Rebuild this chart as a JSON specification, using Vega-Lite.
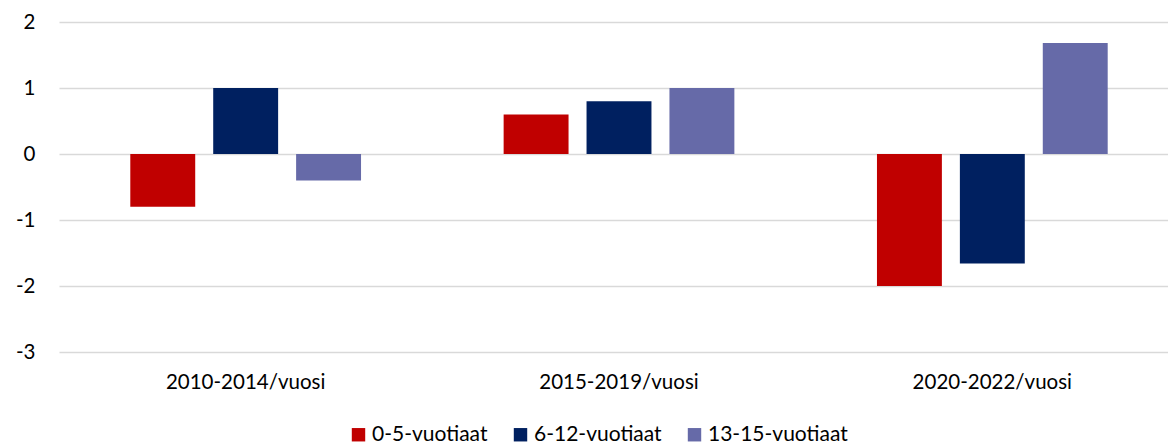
{
  "$schema": "https://vega.github.io/schema/vega-lite/v6.json",
  "width": 1109,
  "height": 330,
  "autosize": {"type": "none"},
  "padding": {"left": 59, "top": 22, "right": 0, "bottom": 94},
  "background": "white",
  "config": {
    "font": "Lato",
    "view": {"stroke": null}
  },
  "data": {
    "values": [
      {"period": "2010-2014/vuosi", "group": "0-5-vuotiaat", "value": -0.8},
      {"period": "2010-2014/vuosi", "group": "6-12-vuotiaat", "value": 1.0},
      {"period": "2010-2014/vuosi", "group": "13-15-vuotiaat", "value": -0.4},
      {"period": "2015-2019/vuosi", "group": "0-5-vuotiaat", "value": 0.6},
      {"period": "2015-2019/vuosi", "group": "6-12-vuotiaat", "value": 0.8},
      {"period": "2015-2019/vuosi", "group": "13-15-vuotiaat", "value": 1.0},
      {"period": "2020-2022/vuosi", "group": "0-5-vuotiaat", "value": -2.0},
      {"period": "2020-2022/vuosi", "group": "6-12-vuotiaat", "value": -1.66},
      {"period": "2020-2022/vuosi", "group": "13-15-vuotiaat", "value": 1.68}
    ]
  },
  "mark": {"type": "bar"},
  "encoding": {
    "x": {
      "field": "period",
      "type": "nominal",
      "sort": null,
      "scale": {"paddingInner": 0, "paddingOuter": 0, "range": [0, 1120]},
      "axis": {
        "title": null,
        "labelAngle": 0,
        "domain": false,
        "ticks": false,
        "grid": false,
        "labelFontSize": 20.5,
        "labelColor": "#000000",
        "labelPadding": 20
      }
    },
    "xOffset": {
      "field": "group",
      "type": "nominal",
      "sort": ["0-5-vuotiaat", "6-12-vuotiaat", "13-15-vuotiaat"],
      "scale": {"paddingInner": 0.217, "paddingOuter": 0.86}
    },
    "y": {
      "field": "value",
      "type": "quantitative",
      "scale": {"domain": [-3, 2], "nice": false},
      "axis": {
        "title": null,
        "values": [-3, -2, -1, 0, 1, 2],
        "labelExpr": "'' + datum.value",
        "domain": false,
        "ticks": false,
        "labelFontSize": 20.5,
        "labelColor": "#000000",
        "labelPadding": 24,
        "gridColor": "#D9D9D9",
        "gridWidth": 1.5
      }
    },
    "color": {
      "field": "group",
      "type": "nominal",
      "sort": ["0-5-vuotiaat", "6-12-vuotiaat", "13-15-vuotiaat"],
      "scale": {
        "domain": ["0-5-vuotiaat", "6-12-vuotiaat", "13-15-vuotiaat"],
        "range": ["#C00000", "#002060", "#666AA8"]
      },
      "legend": {
        "title": null,
        "orient": "none",
        "direction": "horizontal",
        "legendX": 289,
        "legendY": 402,
        "symbolType": "square",
        "symbolSize": 180,
        "symbolStrokeWidth": 0,
        "labelFontSize": 21,
        "labelColor": "#000000",
        "labelOffset": 3,
        "columnPadding": 22
      }
    }
  }
}
